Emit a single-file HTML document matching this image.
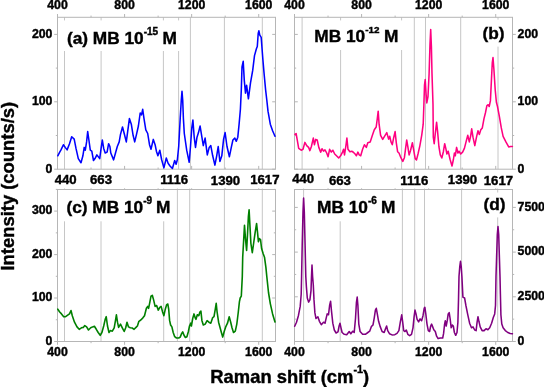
<!DOCTYPE html>
<html lang="en"><head><meta charset="utf-8"><title>Raman spectra of MB</title>
<style>html,body{margin:0;padding:0;background:#fff;}body{width:544px;height:387px;overflow:hidden;}svg{display:block;}</style>
</head><body>
<svg width="544" height="387" viewBox="0 0 544 387" font-family="'Liberation Sans', Arial, sans-serif" font-weight="bold">
<rect width="544" height="387" fill="#fff"/>
<defs><filter id="soft" x="0" y="0" width="100%" height="100%" filterUnits="userSpaceOnUse" color-interpolation-filters="sRGB"><feGaussianBlur stdDeviation="0.38"/></filter></defs>
<g filter="url(#soft)">
<rect width="544" height="387" fill="#fff"/>
<line x1="64.50" y1="17.30" x2="64.50" y2="169.20" stroke="#c6c6c6" stroke-width="1"/>
<line x1="101.10" y1="17.30" x2="101.10" y2="169.20" stroke="#c6c6c6" stroke-width="1"/>
<line x1="163.40" y1="17.30" x2="163.40" y2="169.20" stroke="#c6c6c6" stroke-width="1"/>
<line x1="178.60" y1="17.30" x2="178.60" y2="169.20" stroke="#c6c6c6" stroke-width="1"/>
<line x1="190.40" y1="17.30" x2="190.40" y2="169.20" stroke="#c6c6c6" stroke-width="1"/>
<line x1="224.40" y1="17.30" x2="224.40" y2="169.20" stroke="#c6c6c6" stroke-width="1"/>
<line x1="262.30" y1="17.30" x2="262.30" y2="169.20" stroke="#c6c6c6" stroke-width="1"/>
<rect x="60.5" y="20.4" width="122.5" height="30.6" fill="#fff"/>
<rect x="57.5" y="17.3" width="218.00" height="151.90" fill="none" stroke="#b6b6b6" stroke-width="1"/>
<line x1="57.50" y1="14.00" x2="57.50" y2="17.30" stroke="#b6b6b6" stroke-width="1"/>
<line x1="57.50" y1="165.90" x2="57.50" y2="169.20" stroke="#b6b6b6" stroke-width="1"/>
<line x1="91.04" y1="15.60" x2="91.04" y2="17.30" stroke="#b6b6b6" stroke-width="1"/>
<line x1="91.04" y1="167.50" x2="91.04" y2="169.20" stroke="#b6b6b6" stroke-width="1"/>
<line x1="124.58" y1="14.00" x2="124.58" y2="17.30" stroke="#b6b6b6" stroke-width="1"/>
<line x1="124.58" y1="165.90" x2="124.58" y2="169.20" stroke="#b6b6b6" stroke-width="1"/>
<line x1="158.12" y1="15.60" x2="158.12" y2="17.30" stroke="#b6b6b6" stroke-width="1"/>
<line x1="158.12" y1="167.50" x2="158.12" y2="169.20" stroke="#b6b6b6" stroke-width="1"/>
<line x1="191.65" y1="14.00" x2="191.65" y2="17.30" stroke="#b6b6b6" stroke-width="1"/>
<line x1="191.65" y1="165.90" x2="191.65" y2="169.20" stroke="#b6b6b6" stroke-width="1"/>
<line x1="225.19" y1="15.60" x2="225.19" y2="17.30" stroke="#b6b6b6" stroke-width="1"/>
<line x1="225.19" y1="167.50" x2="225.19" y2="169.20" stroke="#b6b6b6" stroke-width="1"/>
<line x1="258.73" y1="14.00" x2="258.73" y2="17.30" stroke="#b6b6b6" stroke-width="1"/>
<line x1="258.73" y1="165.90" x2="258.73" y2="169.20" stroke="#b6b6b6" stroke-width="1"/>
<line x1="54.20" y1="169.20" x2="57.50" y2="169.20" stroke="#b6b6b6" stroke-width="1"/>
<line x1="272.20" y1="169.20" x2="275.50" y2="169.20" stroke="#b6b6b6" stroke-width="1"/>
<line x1="55.80" y1="135.50" x2="57.50" y2="135.50" stroke="#b6b6b6" stroke-width="1"/>
<line x1="273.80" y1="135.50" x2="275.50" y2="135.50" stroke="#b6b6b6" stroke-width="1"/>
<line x1="54.20" y1="101.80" x2="57.50" y2="101.80" stroke="#b6b6b6" stroke-width="1"/>
<line x1="272.20" y1="101.80" x2="275.50" y2="101.80" stroke="#b6b6b6" stroke-width="1"/>
<line x1="55.80" y1="68.10" x2="57.50" y2="68.10" stroke="#b6b6b6" stroke-width="1"/>
<line x1="273.80" y1="68.10" x2="275.50" y2="68.10" stroke="#b6b6b6" stroke-width="1"/>
<line x1="54.20" y1="34.40" x2="57.50" y2="34.40" stroke="#b6b6b6" stroke-width="1"/>
<line x1="272.20" y1="34.40" x2="275.50" y2="34.40" stroke="#b6b6b6" stroke-width="1"/>
<line x1="302.10" y1="17.30" x2="302.10" y2="169.20" stroke="#c6c6c6" stroke-width="1"/>
<line x1="340.60" y1="17.30" x2="340.60" y2="169.20" stroke="#c6c6c6" stroke-width="1"/>
<line x1="401.60" y1="17.30" x2="401.60" y2="169.20" stroke="#c6c6c6" stroke-width="1"/>
<line x1="414.30" y1="17.30" x2="414.30" y2="169.20" stroke="#c6c6c6" stroke-width="1"/>
<line x1="425.50" y1="17.30" x2="425.50" y2="169.20" stroke="#c6c6c6" stroke-width="1"/>
<line x1="460.70" y1="17.30" x2="460.70" y2="169.20" stroke="#c6c6c6" stroke-width="1"/>
<line x1="498.00" y1="17.30" x2="498.00" y2="169.20" stroke="#c6c6c6" stroke-width="1"/>
<rect x="306" y="20.4" width="100.0" height="29.6" fill="#fff"/>
<rect x="481" y="19.6" width="25.0" height="27.0" fill="#fff"/>
<rect x="294.5" y="17.3" width="218.00" height="151.90" fill="none" stroke="#b6b6b6" stroke-width="1"/>
<line x1="294.50" y1="14.00" x2="294.50" y2="17.30" stroke="#b6b6b6" stroke-width="1"/>
<line x1="294.50" y1="165.90" x2="294.50" y2="169.20" stroke="#b6b6b6" stroke-width="1"/>
<line x1="328.04" y1="15.60" x2="328.04" y2="17.30" stroke="#b6b6b6" stroke-width="1"/>
<line x1="328.04" y1="167.50" x2="328.04" y2="169.20" stroke="#b6b6b6" stroke-width="1"/>
<line x1="361.58" y1="14.00" x2="361.58" y2="17.30" stroke="#b6b6b6" stroke-width="1"/>
<line x1="361.58" y1="165.90" x2="361.58" y2="169.20" stroke="#b6b6b6" stroke-width="1"/>
<line x1="395.12" y1="15.60" x2="395.12" y2="17.30" stroke="#b6b6b6" stroke-width="1"/>
<line x1="395.12" y1="167.50" x2="395.12" y2="169.20" stroke="#b6b6b6" stroke-width="1"/>
<line x1="428.65" y1="14.00" x2="428.65" y2="17.30" stroke="#b6b6b6" stroke-width="1"/>
<line x1="428.65" y1="165.90" x2="428.65" y2="169.20" stroke="#b6b6b6" stroke-width="1"/>
<line x1="462.19" y1="15.60" x2="462.19" y2="17.30" stroke="#b6b6b6" stroke-width="1"/>
<line x1="462.19" y1="167.50" x2="462.19" y2="169.20" stroke="#b6b6b6" stroke-width="1"/>
<line x1="495.73" y1="14.00" x2="495.73" y2="17.30" stroke="#b6b6b6" stroke-width="1"/>
<line x1="495.73" y1="165.90" x2="495.73" y2="169.20" stroke="#b6b6b6" stroke-width="1"/>
<line x1="294.50" y1="169.20" x2="297.80" y2="169.20" stroke="#b6b6b6" stroke-width="1"/>
<line x1="512.50" y1="169.20" x2="515.80" y2="169.20" stroke="#b6b6b6" stroke-width="1"/>
<line x1="294.50" y1="135.50" x2="296.20" y2="135.50" stroke="#b6b6b6" stroke-width="1"/>
<line x1="512.50" y1="135.50" x2="514.20" y2="135.50" stroke="#b6b6b6" stroke-width="1"/>
<line x1="294.50" y1="101.80" x2="297.80" y2="101.80" stroke="#b6b6b6" stroke-width="1"/>
<line x1="512.50" y1="101.80" x2="515.80" y2="101.80" stroke="#b6b6b6" stroke-width="1"/>
<line x1="294.50" y1="68.10" x2="296.20" y2="68.10" stroke="#b6b6b6" stroke-width="1"/>
<line x1="512.50" y1="68.10" x2="514.20" y2="68.10" stroke="#b6b6b6" stroke-width="1"/>
<line x1="294.50" y1="34.40" x2="297.80" y2="34.40" stroke="#b6b6b6" stroke-width="1"/>
<line x1="512.50" y1="34.40" x2="515.80" y2="34.40" stroke="#b6b6b6" stroke-width="1"/>
<line x1="64.50" y1="188.50" x2="64.50" y2="341.50" stroke="#c6c6c6" stroke-width="1"/>
<line x1="101.00" y1="188.50" x2="101.00" y2="341.50" stroke="#c6c6c6" stroke-width="1"/>
<line x1="163.70" y1="188.50" x2="163.70" y2="341.50" stroke="#c6c6c6" stroke-width="1"/>
<line x1="177.40" y1="188.50" x2="177.40" y2="341.50" stroke="#c6c6c6" stroke-width="1"/>
<line x1="189.70" y1="188.50" x2="189.70" y2="341.50" stroke="#c6c6c6" stroke-width="1"/>
<line x1="224.40" y1="188.50" x2="224.40" y2="341.50" stroke="#c6c6c6" stroke-width="1"/>
<line x1="262.30" y1="188.50" x2="262.30" y2="341.50" stroke="#c6c6c6" stroke-width="1"/>
<rect x="60.5" y="190.0" width="111.5" height="31.3" fill="#fff"/>
<rect x="57.5" y="189.5" width="218.00" height="152.00" fill="none" stroke="#b6b6b6" stroke-width="1"/>
<line x1="57.50" y1="189.50" x2="57.50" y2="192.80" stroke="#b6b6b6" stroke-width="1"/>
<line x1="57.50" y1="341.50" x2="57.50" y2="344.80" stroke="#b6b6b6" stroke-width="1"/>
<line x1="91.04" y1="188.30" x2="91.04" y2="189.50" stroke="#b6b6b6" stroke-width="1"/>
<line x1="91.04" y1="341.50" x2="91.04" y2="343.20" stroke="#b6b6b6" stroke-width="1"/>
<line x1="124.58" y1="188.30" x2="124.58" y2="189.50" stroke="#b6b6b6" stroke-width="1"/>
<line x1="124.58" y1="341.50" x2="124.58" y2="344.80" stroke="#b6b6b6" stroke-width="1"/>
<line x1="158.12" y1="188.30" x2="158.12" y2="189.50" stroke="#b6b6b6" stroke-width="1"/>
<line x1="158.12" y1="341.50" x2="158.12" y2="343.20" stroke="#b6b6b6" stroke-width="1"/>
<line x1="191.65" y1="188.30" x2="191.65" y2="189.50" stroke="#b6b6b6" stroke-width="1"/>
<line x1="191.65" y1="341.50" x2="191.65" y2="344.80" stroke="#b6b6b6" stroke-width="1"/>
<line x1="225.19" y1="188.30" x2="225.19" y2="189.50" stroke="#b6b6b6" stroke-width="1"/>
<line x1="225.19" y1="341.50" x2="225.19" y2="343.20" stroke="#b6b6b6" stroke-width="1"/>
<line x1="258.73" y1="188.30" x2="258.73" y2="189.50" stroke="#b6b6b6" stroke-width="1"/>
<line x1="258.73" y1="341.50" x2="258.73" y2="344.80" stroke="#b6b6b6" stroke-width="1"/>
<line x1="54.20" y1="341.50" x2="57.50" y2="341.50" stroke="#b6b6b6" stroke-width="1"/>
<line x1="272.20" y1="341.50" x2="275.50" y2="341.50" stroke="#b6b6b6" stroke-width="1"/>
<line x1="55.80" y1="319.75" x2="57.50" y2="319.75" stroke="#b6b6b6" stroke-width="1"/>
<line x1="273.80" y1="319.75" x2="275.50" y2="319.75" stroke="#b6b6b6" stroke-width="1"/>
<line x1="54.20" y1="298.00" x2="57.50" y2="298.00" stroke="#b6b6b6" stroke-width="1"/>
<line x1="272.20" y1="298.00" x2="275.50" y2="298.00" stroke="#b6b6b6" stroke-width="1"/>
<line x1="55.80" y1="276.30" x2="57.50" y2="276.30" stroke="#b6b6b6" stroke-width="1"/>
<line x1="273.80" y1="276.30" x2="275.50" y2="276.30" stroke="#b6b6b6" stroke-width="1"/>
<line x1="54.20" y1="254.60" x2="57.50" y2="254.60" stroke="#b6b6b6" stroke-width="1"/>
<line x1="272.20" y1="254.60" x2="275.50" y2="254.60" stroke="#b6b6b6" stroke-width="1"/>
<line x1="55.80" y1="232.85" x2="57.50" y2="232.85" stroke="#b6b6b6" stroke-width="1"/>
<line x1="273.80" y1="232.85" x2="275.50" y2="232.85" stroke="#b6b6b6" stroke-width="1"/>
<line x1="54.20" y1="211.10" x2="57.50" y2="211.10" stroke="#b6b6b6" stroke-width="1"/>
<line x1="272.20" y1="211.10" x2="275.50" y2="211.10" stroke="#b6b6b6" stroke-width="1"/>
<line x1="55.80" y1="189.40" x2="57.50" y2="189.40" stroke="#b6b6b6" stroke-width="1"/>
<line x1="273.80" y1="189.40" x2="275.50" y2="189.40" stroke="#b6b6b6" stroke-width="1"/>
<line x1="303.60" y1="188.50" x2="303.60" y2="341.50" stroke="#c6c6c6" stroke-width="1"/>
<line x1="340.20" y1="188.50" x2="340.20" y2="341.50" stroke="#c6c6c6" stroke-width="1"/>
<line x1="402.40" y1="188.50" x2="402.40" y2="341.50" stroke="#c6c6c6" stroke-width="1"/>
<line x1="414.70" y1="188.50" x2="414.70" y2="341.50" stroke="#c6c6c6" stroke-width="1"/>
<line x1="424.50" y1="188.50" x2="424.50" y2="341.50" stroke="#c6c6c6" stroke-width="1"/>
<line x1="461.60" y1="188.50" x2="461.60" y2="341.50" stroke="#c6c6c6" stroke-width="1"/>
<line x1="497.70" y1="188.50" x2="497.70" y2="341.50" stroke="#c6c6c6" stroke-width="1"/>
<rect x="308" y="190.0" width="91.0" height="31.3" fill="#fff"/>
<rect x="481" y="192.5" width="27.0" height="24.9" fill="#fff"/>
<rect x="294.5" y="189.5" width="218.00" height="152.00" fill="none" stroke="#b6b6b6" stroke-width="1"/>
<line x1="294.50" y1="189.50" x2="294.50" y2="192.80" stroke="#b6b6b6" stroke-width="1"/>
<line x1="294.50" y1="341.50" x2="294.50" y2="344.80" stroke="#b6b6b6" stroke-width="1"/>
<line x1="328.04" y1="188.30" x2="328.04" y2="189.50" stroke="#b6b6b6" stroke-width="1"/>
<line x1="328.04" y1="341.50" x2="328.04" y2="343.20" stroke="#b6b6b6" stroke-width="1"/>
<line x1="361.58" y1="188.30" x2="361.58" y2="189.50" stroke="#b6b6b6" stroke-width="1"/>
<line x1="361.58" y1="341.50" x2="361.58" y2="344.80" stroke="#b6b6b6" stroke-width="1"/>
<line x1="395.12" y1="188.30" x2="395.12" y2="189.50" stroke="#b6b6b6" stroke-width="1"/>
<line x1="395.12" y1="341.50" x2="395.12" y2="343.20" stroke="#b6b6b6" stroke-width="1"/>
<line x1="428.65" y1="188.30" x2="428.65" y2="189.50" stroke="#b6b6b6" stroke-width="1"/>
<line x1="428.65" y1="341.50" x2="428.65" y2="344.80" stroke="#b6b6b6" stroke-width="1"/>
<line x1="462.19" y1="188.30" x2="462.19" y2="189.50" stroke="#b6b6b6" stroke-width="1"/>
<line x1="462.19" y1="341.50" x2="462.19" y2="343.20" stroke="#b6b6b6" stroke-width="1"/>
<line x1="495.73" y1="188.30" x2="495.73" y2="189.50" stroke="#b6b6b6" stroke-width="1"/>
<line x1="495.73" y1="341.50" x2="495.73" y2="344.80" stroke="#b6b6b6" stroke-width="1"/>
<line x1="294.50" y1="341.50" x2="297.80" y2="341.50" stroke="#b6b6b6" stroke-width="1"/>
<line x1="512.50" y1="341.50" x2="515.80" y2="341.50" stroke="#b6b6b6" stroke-width="1"/>
<line x1="294.50" y1="319.15" x2="296.20" y2="319.15" stroke="#b6b6b6" stroke-width="1"/>
<line x1="512.50" y1="319.15" x2="514.20" y2="319.15" stroke="#b6b6b6" stroke-width="1"/>
<line x1="294.50" y1="296.80" x2="297.80" y2="296.80" stroke="#b6b6b6" stroke-width="1"/>
<line x1="512.50" y1="296.80" x2="515.80" y2="296.80" stroke="#b6b6b6" stroke-width="1"/>
<line x1="294.50" y1="274.45" x2="296.20" y2="274.45" stroke="#b6b6b6" stroke-width="1"/>
<line x1="512.50" y1="274.45" x2="514.20" y2="274.45" stroke="#b6b6b6" stroke-width="1"/>
<line x1="294.50" y1="252.10" x2="297.80" y2="252.10" stroke="#b6b6b6" stroke-width="1"/>
<line x1="512.50" y1="252.10" x2="515.80" y2="252.10" stroke="#b6b6b6" stroke-width="1"/>
<line x1="294.50" y1="229.75" x2="296.20" y2="229.75" stroke="#b6b6b6" stroke-width="1"/>
<line x1="512.50" y1="229.75" x2="514.20" y2="229.75" stroke="#b6b6b6" stroke-width="1"/>
<line x1="294.50" y1="207.40" x2="297.80" y2="207.40" stroke="#b6b6b6" stroke-width="1"/>
<line x1="512.50" y1="207.40" x2="515.80" y2="207.40" stroke="#b6b6b6" stroke-width="1"/>
<polyline points="57.8,155.8 59.7,152.1 61,149.9 63.4,144.7 65.2,147.4 67.1,149.9 69.5,143.7 71.7,136.7 74.2,139.1 76,148.4 78.3,158.6 81,162.7 82.9,155.8 84.2,147.4 85.3,150.2 86.6,141.9 87.7,131.6 88.9,140 90.3,150.2 91.8,151.2 93.5,160.5 95,158.6 96.9,154.9 99.7,158.6 101.1,148.4 102.3,140 103.7,148.4 105.2,153 107.1,152.1 108.6,143.7 109.9,146.5 110.8,153 113.6,159.9 115.5,153 117.3,146.5 119.2,141.9 120.5,134.4 122.5,127 124.2,133.5 126.3,141.9 127.9,129.8 129.4,118.6 131.3,124.2 133.1,135.3 134.7,141.9 136.5,134.4 138.4,126 140.2,113 141.5,114.9 142.7,109.3 144,118.6 145.8,129.8 147.7,133.5 149.5,144.7 151,149.3 153.3,139.4 155.1,144.7 156.4,151.2 157.9,155.8 159.8,150.2 161.6,159.5 163.9,167.9 166.3,158 168.1,163.3 170,166 172.4,168.5 174.7,160.5 176.1,164.2 177.4,159.5 178.7,146.5 180.2,118.6 181.3,100 182,91.3 182.7,100 183.4,118.6 184.3,133.5 186.7,150.2 189.2,162.3 190.5,146.5 191.8,127.9 192.9,120.1 194.2,137.2 195.5,147.4 197,137.2 198.5,132.6 200.1,126 201.6,135.3 203.3,145.6 205.1,138.1 207.3,154.9 209.2,147.4 210.8,145.6 212.7,155.8 214.9,165.1 216.7,155.8 218.2,146.5 219.9,161.4 221.8,155.8 223.6,139.1 225.1,132.6 227,146.5 229.4,156.7 231.3,147.4 232.9,140 234.8,138.1 236.3,141.3 237.8,137.2 239.1,124.2 240.4,109.3 241.3,90 242,67 243.2,61.3 244.3,80.6 245.5,93.1 246.6,85.2 248.4,98.8 250.5,82.9 252.7,70.4 254.5,55.6 256.4,48.8 257.3,46.5 258.2,33.5 258.9,30.8 259.8,35.2 261.2,37.4 262.0,48 262.8,58.5 264.1,73.8 265.6,89.7 266.8,100 268.0,111.2 270.3,124.2 272.6,130.7 275,136.3" fill="none" stroke="#0000ff" stroke-width="1.55" stroke-linejoin="round" stroke-linecap="round"/>
<polyline points="295,134.4 296.1,133.5 297.4,140.9 298.7,148.4 301.2,150.2 303,149.3 304.9,142.4 306.7,145.6 308.6,147.4 309.9,150.6 311.4,146.5 313.3,138.1 314.4,144.7 315.7,139.4 317.2,140 318.8,147.4 320.7,152.1 322,148.7 323.5,151.2 325,149.9 326.7,153 328.1,156.7 329.6,149.3 331.3,152.1 332.8,150.2 334.7,154 336.5,155.8 338.7,158 340.6,155.8 342.5,152.1 343.6,149.3 344.5,154.9 345.8,146.5 346.9,138.1 348,149.3 349.9,151.7 351.8,151.2 353.6,152.5 355.1,154 356.4,155.8 357.9,152.1 359.2,154.9 360.7,155.8 362.6,149.3 364.4,144.7 366.3,147.4 367.8,142.8 370.2,141.9 372.4,135.3 374.3,129.8 376.2,127 377.3,118.6 378.2,111.2 379.1,124.2 380.6,135.3 382.7,139.4 384.5,136.3 386.8,132.6 388.6,139.1 389.7,136.3 391,141.9 392.3,144.7 393.8,137.2 395.1,131.6 396.3,142.8 397.6,151.7 399,153 400.9,157.7 402.8,161.4 404.4,157.7 405.6,148.4 406.7,140 407.8,146.5 409.1,154.9 410.6,150.2 412.4,142.8 413.7,150.2 415.2,158.6 416.5,159.9 418,154 419.9,145.6 421.7,135.3 423.2,124.2 423.9,104.5 424.5,85.2 425.2,79.5 426.1,94.3 426.8,102.9 428,96.5 429.1,73.8 430,44.3 430.7,29.5 431.4,46.5 432,73.8 433,104.5 433.3,137.2 434.2,143.7 435.3,133.5 436.6,122.3 437.6,131.6 438.9,146.5 440.3,154.9 441.8,158 443.3,152 444.7,143.7 445.8,148.4 446.9,154 448.2,151.2 450.1,159.5 452,166 453.4,159.5 454.4,153 455.3,155.8 456.6,147.4 457.9,153 459,151.2 460.7,154 462.6,152.1 464.4,148.4 466.3,140.9 467.8,135.3 469.3,141.9 470.6,136.3 471.7,128.8 473,137.2 474.8,145.6 476.5,137.2 478,130.7 479.3,134.4 480.8,129.8 482.3,127.9 484,118.6 485.4,113 486.9,105.6 488.2,104.7 489.2,106.5 490.4,100.9 491.4,80.6 492.3,62.5 493,57.5 493.9,69.3 495.2,89.7 496.4,102.2 497.5,106.5 499.4,116.7 501.3,127.9 503.1,136.3 505.9,141.9 508.7,146.9 510.6,146.5 512.4,146.5" fill="none" stroke="#ff0080" stroke-width="1.55" stroke-linejoin="round" stroke-linecap="round"/>
<polyline points="57.8,309.2 59.7,312 61.5,313.9 63.7,316.7 65.6,316.7 67.7,315.2 69.5,313.9 71,310.5 72.3,315.7 74.5,322.2 77,326.9 79.2,329.3 81.4,327.8 83.3,327.4 84.8,325.6 86.6,326.9 88.5,330 90.7,327.8 92.6,326.9 94.4,326.3 96.3,329.3 98.2,332.5 100.2,335.3 101.9,332.5 103.7,326 105.2,319.4 106.2,316.7 107.5,326 109,332.5 110.4,330.6 112.3,331.2 114.2,327.8 115.5,320.4 116.4,314.8 117.5,322.2 118.6,327.4 120.5,324.1 122.3,327.8 124.2,331.5 125.7,327.8 127,322.2 128.5,326.9 130.3,327.8 132.2,328 134.1,329.3 136,327.4 137.4,326 138.9,321.3 140.8,320 142.7,318.1 144.5,315.7 146.4,308.3 147.7,306.4 148.6,308.3 149.9,301.8 151,296.2 152.3,295.3 153.6,299.9 155.1,306.4 156.6,305.5 158.3,310.1 159.8,307.3 161.1,306.4 162.6,312 163.9,315.7 165.3,309.2 166.7,304.6 167.8,304 168.7,309.2 169.6,320.4 170.6,325 171.9,326.9 173.2,332.5 174.7,336.7 176.5,338 178.7,338 180.2,337.1 181.7,333.4 182.7,331.9 184,335.3 185.4,337.5 186.9,336.7 188.4,331.5 189.5,326 190.7,323.2 191.4,326 192.7,318.5 194,313.9 195.1,317.6 196,319.4 197.3,314.8 198.8,315.7 199.9,312 200.9,311.1 201.9,320.4 203.3,325 205.2,324.1 207.1,320.7 208.9,322.2 210.8,323.2 212.7,317.6 214,316.7 215.3,309.2 216.2,303.3 217.1,312 218.6,322.2 220.1,327.8 221.4,332.5 222.7,337.1 224.2,331.5 225.7,326.9 227.5,323.2 229.2,316.7 230.7,322.2 232,327.8 233.5,332.5 235.3,331.2 236.8,324.1 238.3,312 239.4,301.8 240.2,298 241.3,296.2 242.3,276.5 242.7,257.2 243.6,241.3 244.5,225.4 245.5,239 246.6,250.4 247.5,234.5 248.4,216.3 249.1,209.9 249.8,223.1 250.9,243.5 252.3,252.6 253.6,243.5 255.2,232.2 256.6,223.5 257.5,232.2 258.4,241.7 259.3,238.5 260.5,239.5 261.6,248.5 263.2,253.8 264.5,257.2 265.9,267.4 266.8,276.5 268.5,292.5 270.3,303.6 272.6,313.9 275,321.9" fill="none" stroke="#008000" stroke-width="1.6" stroke-linejoin="round" stroke-linecap="round"/>
<polyline points="294.7,326.3 296.5,322.3 298.4,315.7 300.2,306.4 301.2,294.3 301.6,276.5 302.2,245.8 303,211.7 303.6,198.1 304.3,211.7 305.1,245.8 305.8,276.5 306.4,286.9 307.3,298 308.6,302.1 309.9,299.9 311,290.6 311.5,276.5 312,265.1 312.6,276.5 313.3,285 314,299.9 314.9,312.9 316,318.5 317.9,316.7 319.4,321.3 321.3,324.7 323.5,322.2 325,323.2 326.3,317.6 327.2,313.9 328.5,314.8 329.6,305.5 330.6,301.2 331.5,311.1 332.8,323.2 334.3,330 336.1,333 338,331.9 339.1,326 340,323.2 341,327.8 342.1,332.5 344.3,334.3 346.7,334.7 349.2,331.5 350.8,333.8 352.7,331.2 354.2,332.5 355.5,318.5 356.4,302.7 357.2,297.1 357.9,305.5 358.8,324.1 360.1,331.5 362.6,334.3 365.3,334.3 367.2,333 369.7,331.2 371.5,326.3 373,325 374.3,317.6 375.4,310.1 376.3,308.3 377.3,313.9 378.6,321.3 380.3,326.9 382.1,331.5 384.2,332.5 385.5,328.7 386.6,326 387.7,330.6 389.6,333.8 392,334.9 394.8,334.7 397,333.4 398.9,330.6 400.3,322.2 401.7,314.8 402.6,321.3 403.7,330.6 405,331.5 406.3,330 407.8,334.3 409.7,335.6 411.5,334.3 413,327.8 414.1,316.7 415,310.1 416,313.9 417.1,319.4 418.6,321.9 420.1,318.9 421.6,320.7 423,315.7 424.2,308.3 424.9,307.3 425.8,313.9 427,324.1 428.3,330.6 429.6,331.5 430.7,326 431.6,324.1 432.7,326.9 433.8,329.7 435.3,331.5 436.6,336.2 438.1,338.6 440.3,338 442.7,338 443.6,333.4 444.5,325 445.3,320.7 446.2,326 447.3,320.4 448.2,313.9 449.2,312.6 450.1,318.5 451.2,327.8 452.3,325 453.3,326 454.4,332.5 455.7,335.3 457,332.5 457.9,322.2 458.5,299.9 459,276.5 459.8,266.3 460.5,261.3 461.2,266.3 461.9,276.5 462.4,286.9 462.9,297.1 464.6,298 465.9,305.5 467.8,314.8 469.6,323.2 471.5,327.8 473,326.9 474.7,330 476.1,330.6 477.1,322.2 478,316.7 478.9,321.3 480.2,326.9 482.1,330.6 484.1,330.6 486,328.7 487.9,329.7 489.7,327.8 491.6,323.2 493.3,317.6 494.7,313.9 495.5,305.5 496,276.5 496.6,257.2 497.3,234.5 498,226.5 498.7,234.5 499.4,257.2 500,276.5 500.4,294.3 500.9,314.8 501.8,324.1 503.1,327.8 505.3,330.6 507.8,332.5 510.2,333.4 512.4,333.8" fill="none" stroke="#800080" stroke-width="1.55" stroke-linejoin="round" stroke-linecap="round"/>
<text transform="translate(57.50,9.30) scale(1,1.03)" font-size="12.3" text-anchor="middle" fill="#000" stroke="#000" stroke-width="0.4">400</text>
<text transform="translate(294.50,9.30) scale(1,1.03)" font-size="12.3" text-anchor="middle" fill="#000" stroke="#000" stroke-width="0.4">400</text>
<text transform="translate(57.50,356.10) scale(1,1.03)" font-size="12.3" text-anchor="middle" fill="#000" stroke="#000" stroke-width="0.4">400</text>
<text transform="translate(294.50,356.10) scale(1,1.03)" font-size="12.3" text-anchor="middle" fill="#000" stroke="#000" stroke-width="0.4">400</text>
<text transform="translate(124.58,9.30) scale(1,1.03)" font-size="12.3" text-anchor="middle" fill="#000" stroke="#000" stroke-width="0.4">800</text>
<text transform="translate(361.58,9.30) scale(1,1.03)" font-size="12.3" text-anchor="middle" fill="#000" stroke="#000" stroke-width="0.4">800</text>
<text transform="translate(124.58,356.10) scale(1,1.03)" font-size="12.3" text-anchor="middle" fill="#000" stroke="#000" stroke-width="0.4">800</text>
<text transform="translate(361.58,356.10) scale(1,1.03)" font-size="12.3" text-anchor="middle" fill="#000" stroke="#000" stroke-width="0.4">800</text>
<text transform="translate(191.65,9.30) scale(1,1.03)" font-size="12.3" text-anchor="middle" fill="#000" stroke="#000" stroke-width="0.4">1200</text>
<text transform="translate(428.65,9.30) scale(1,1.03)" font-size="12.3" text-anchor="middle" fill="#000" stroke="#000" stroke-width="0.4">1200</text>
<text transform="translate(191.65,356.10) scale(1,1.03)" font-size="12.3" text-anchor="middle" fill="#000" stroke="#000" stroke-width="0.4">1200</text>
<text transform="translate(428.65,356.10) scale(1,1.03)" font-size="12.3" text-anchor="middle" fill="#000" stroke="#000" stroke-width="0.4">1200</text>
<text transform="translate(258.73,9.30) scale(1,1.03)" font-size="12.3" text-anchor="middle" fill="#000" stroke="#000" stroke-width="0.4">1600</text>
<text transform="translate(495.73,9.30) scale(1,1.03)" font-size="12.3" text-anchor="middle" fill="#000" stroke="#000" stroke-width="0.4">1600</text>
<text transform="translate(258.73,356.10) scale(1,1.03)" font-size="12.3" text-anchor="middle" fill="#000" stroke="#000" stroke-width="0.4">1600</text>
<text transform="translate(495.73,356.10) scale(1,1.03)" font-size="12.3" text-anchor="middle" fill="#000" stroke="#000" stroke-width="0.4">1600</text>
<text transform="translate(52.40,37.60) scale(1,1.03)" font-size="12.3" text-anchor="end" fill="#000" stroke="#000" stroke-width="0.4">200</text>
<text transform="translate(517.60,37.60) scale(1,1.03)" font-size="12.3" text-anchor="start" fill="#000" stroke="#000" stroke-width="0.4">200</text>
<text transform="translate(52.40,105.05) scale(1,1.03)" font-size="12.3" text-anchor="end" fill="#000" stroke="#000" stroke-width="0.4">100</text>
<text transform="translate(517.60,105.05) scale(1,1.03)" font-size="12.3" text-anchor="start" fill="#000" stroke="#000" stroke-width="0.4">100</text>
<text transform="translate(52.40,172.50) scale(1,1.03)" font-size="12.3" text-anchor="end" fill="#000" stroke="#000" stroke-width="0.4">0</text>
<text transform="translate(517.60,172.50) scale(1,1.03)" font-size="12.3" text-anchor="start" fill="#000" stroke="#000" stroke-width="0.4">0</text>
<text transform="translate(52.40,214.40) scale(1,1.03)" font-size="12.3" text-anchor="end" fill="#000" stroke="#000" stroke-width="0.4">300</text>
<text transform="translate(52.40,257.90) scale(1,1.03)" font-size="12.3" text-anchor="end" fill="#000" stroke="#000" stroke-width="0.4">200</text>
<text transform="translate(52.40,301.30) scale(1,1.03)" font-size="12.3" text-anchor="end" fill="#000" stroke="#000" stroke-width="0.4">100</text>
<text transform="translate(52.40,344.80) scale(1,1.03)" font-size="12.3" text-anchor="end" fill="#000" stroke="#000" stroke-width="0.4">0</text>
<text transform="translate(517.60,210.50) scale(1,1.03)" font-size="12.3" text-anchor="start" fill="#000" stroke="#000" stroke-width="0.4">7500</text>
<text transform="translate(517.60,255.20) scale(1,1.03)" font-size="12.3" text-anchor="start" fill="#000" stroke="#000" stroke-width="0.4">5000</text>
<text transform="translate(517.60,299.90) scale(1,1.03)" font-size="12.3" text-anchor="start" fill="#000" stroke="#000" stroke-width="0.4">2500</text>
<text transform="translate(517.60,344.70) scale(1,1.03)" font-size="12.3" text-anchor="start" fill="#000" stroke="#000" stroke-width="0.4">0</text>
<text transform="translate(65.70,184.00) scale(1,1.03)" font-size="13.2" text-anchor="middle" fill="#000" stroke="#000" stroke-width="0.4">440</text>
<text transform="translate(101.00,184.00) scale(1,1.03)" font-size="13.2" text-anchor="middle" fill="#000" stroke="#000" stroke-width="0.4">663</text>
<text transform="translate(174.20,184.00) scale(1,1.03)" font-size="13.2" text-anchor="middle" fill="#000" stroke="#000" stroke-width="0.4">1116</text>
<text transform="translate(225.50,185.20) scale(1,1.03)" font-size="13.2" text-anchor="middle" fill="#000" stroke="#000" stroke-width="0.4">1390</text>
<text transform="translate(264.80,184.00) scale(1,1.03)" font-size="13.2" text-anchor="middle" fill="#000" stroke="#000" stroke-width="0.4">1617</text>
<text transform="translate(303.20,183.30) scale(1,1.03)" font-size="13.2" text-anchor="middle" fill="#000" stroke="#000" stroke-width="0.4">440</text>
<text transform="translate(339.90,184.60) scale(1,1.03)" font-size="13.2" text-anchor="middle" fill="#000" stroke="#000" stroke-width="0.4">663</text>
<text transform="translate(414.30,185.00) scale(1,1.03)" font-size="13.2" text-anchor="middle" fill="#000" stroke="#000" stroke-width="0.4">1116</text>
<text transform="translate(462.50,184.00) scale(1,1.03)" font-size="13.2" text-anchor="middle" fill="#000" stroke="#000" stroke-width="0.4">1390</text>
<text transform="translate(498.40,185.00) scale(1,1.03)" font-size="13.2" text-anchor="middle" fill="#000" stroke="#000" stroke-width="0.4">1617</text>
<text transform="translate(66.90,43.90)" font-size="17.3" fill="#000" stroke="#000" stroke-width="0.4" xml:space="preserve">(a) MB 10<tspan font-size="10.0" dy="-8.9">-15</tspan><tspan dy="8.9" dx="-0.4"> M</tspan></text>
<text transform="translate(314.30,41.70)" font-size="17.3" fill="#000" stroke="#000" stroke-width="0.4" xml:space="preserve">MB 10<tspan font-size="9.9" dy="-8.8">-12</tspan><tspan dy="8.8" dx="-0.4"> M</tspan></text>
<text transform="translate(66.40,213.00)" font-size="17.3" fill="#000" stroke="#000" stroke-width="0.4" xml:space="preserve">(c) MB 10<tspan font-size="10.0" dy="-9.1">-9</tspan><tspan dy="9.1" dx="-0.8"> M</tspan></text>
<text transform="translate(317.00,213.40)" font-size="17.3" fill="#000" stroke="#000" stroke-width="0.4" xml:space="preserve">MB 10<tspan font-size="10.0" dy="-9.2">-6</tspan><tspan dy="9.2" dx="-0.6"> M</tspan></text>
<text transform="translate(482.50,39.10) scale(1,1.0)" font-size="17.3" text-anchor="start" fill="#000" stroke="#000" stroke-width="0.4">(b)</text>
<text transform="translate(483.50,210.10) scale(1,1.0)" font-size="17.3" text-anchor="start" fill="#000" stroke="#000" stroke-width="0.4">(d)</text>
<text x="210.3" y="383.3" font-size="18.4" fill="#000" stroke="#000" stroke-width="0.4" xml:space="preserve">Raman shift (cm<tspan font-size="10.9" dy="-9.9">-1</tspan><tspan dy="9.9">)</tspan></text>
<text transform="translate(13.7,270.5) rotate(-90)" font-size="18.4" fill="#000" stroke="#000" stroke-width="0.4">Intensity (counts/s)</text>
</g>
</svg>
</body></html>
